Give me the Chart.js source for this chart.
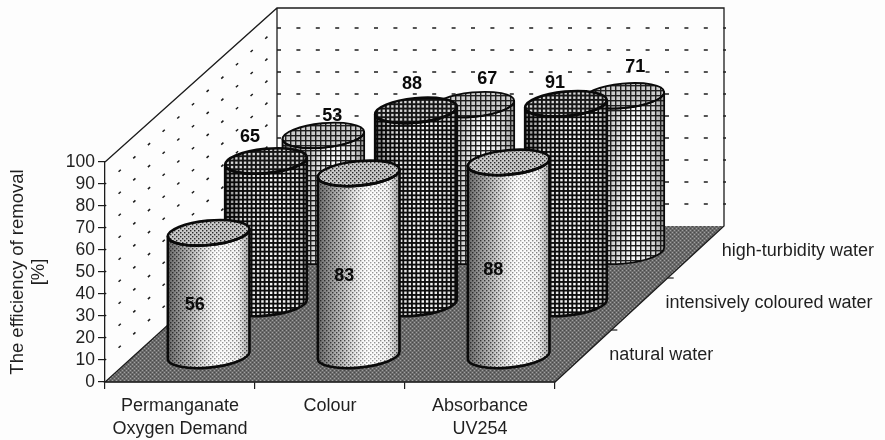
<!DOCTYPE html>
<html><head><meta charset="utf-8">
<style>html,body{margin:0;padding:0;background:#fdfdfd}canvas{display:block;filter:blur(0.5px)}</style>
<script src="https://cdn.jsdelivr.net/npm/chart.js@4"></script>
</head><body><canvas id="c" width="885" height="440"></canvas>
<script>
const categories = [['Permanganate','Oxygen Demand'],'Colour',['Absorbance','UV254']];
const seriesNames = ['natural water','intensively coloured water','high-turbidity water'];
const naturalWater = [56,83,88];
const colouredWater = [65,88,91];
const turbidWater = [53,67,71];
const yTicks = [0,10,20,30,40,50,60,70,80,90,100];
// label placement relative to the top of each cylinder (series x category)
const labelDX = [[-14,-14.5,-15.5],[-16,-4,-11],[9,14,12]];
const labelDY = [[72,103,108],[-24,-26,-21],[-19,-26,-29]];

const DEPTH_X = 172, DEPTH_Y = 156, RX = 41, RY = 12.2, TILT = -5.5*Math.PI/180;
const depthFrac = [1/6, 1/2, 5/6];
const INK = '#1c1c1c', TXT = '#1f1f1f';
const FONT = '"Liberation Sans", Arial, sans-serif';

function tile(w,h,fn){const c=document.createElement('canvas');c.width=w;c.height=h;fn(c.getContext('2d'));return c;}
const dots = tile(4,4,g=>{g.fillStyle='#2a2a2a';g.fillRect(0,0,1.4,1.4);g.fillRect(2,2,1.4,1.4);});
const floorT = tile(4,4,g=>{g.fillStyle='#6a6a6a';g.fillRect(0,0,4,4);g.fillStyle='#a0a0a0';g.fillRect(0,0,1,1);g.fillRect(2,2,1,1);g.fillStyle='#4a4a4a';g.fillRect(2,0,1,1);g.fillRect(0,2,1,1);});
const darkGrid = tile(13,13,g=>{g.fillStyle='#0c0c0c';g.fillRect(0,0,13,13);g.fillStyle='#f8f8f8';for(let i=0;i<3;i++)for(let j=0;j<3;j++)g.fillRect(i*13/3+1.2,j*13/3+1.2,2.5,2.5);});
const darkTop = tile(13,13,g=>{g.fillStyle='#161616';g.fillRect(0,0,13,13);g.fillStyle='#d8d8d8';for(let i=0;i<3;i++)for(let j=0;j<3;j++)g.fillRect(i*13/3+1.2,j*13/3+1.2,2.4,2.4);});
const lightGrid = tile(5,5,g=>{g.fillStyle='#1e1e1e';g.fillRect(0,0,5,1.4);g.fillRect(0,0,1.4,5);});

function sideGrad(ctx,cx,stops){const g=ctx.createLinearGradient(cx-RX,0,cx+RX,0);stops.forEach(s=>g.addColorStop(s[0],s[1]));return g;}

function cylinderPaths(ctx,cx,topY,baseY){
  const t0=Math.atan2(-RY*Math.sin(TILT),RX*Math.cos(TILT));
  const ex=RX*Math.cos(t0)*Math.cos(TILT)-RY*Math.sin(t0)*Math.sin(TILT);
  const ey=RX*Math.cos(t0)*Math.sin(TILT)+RY*Math.sin(t0)*Math.cos(TILT);
  return {
    side(){ctx.beginPath();ctx.moveTo(cx+ex,topY+ey);ctx.lineTo(cx+ex,baseY+ey);
      ctx.ellipse(cx,baseY,RX,RY,TILT,t0,t0+Math.PI);ctx.lineTo(cx-ex,topY-ey);
      ctx.ellipse(cx,topY,RX,RY,TILT,t0+Math.PI,t0,true);ctx.closePath();},
    top(){ctx.beginPath();ctx.ellipse(cx,topY,RX,RY,TILT,0,Math.PI*2);ctx.closePath();}
  };
}
function paintCylinder(ctx,idx,cx,topY,baseY){
  const p=cylinderPaths(ctx,cx,topY,baseY);
  const fillPat=(c,t)=>{ctx.fillStyle=ctx.createPattern(t,'repeat');c();ctx.fill();};
  if(idx===0){
    p.side();ctx.fillStyle=sideGrad(ctx,cx,[[0,'#6a6a6a'],[.25,'#aaaaaa'],[.6,'#fdfdfd'],[.85,'#f0f0f0'],[1,'#a0a0a0']]);ctx.fill();
    fillPat(p.side,dots);
    p.side();ctx.fillStyle=sideGrad(ctx,cx,[[0,'rgba(255,255,255,0)'],[.3,'rgba(255,255,255,.1)'],[.62,'rgba(255,255,255,.55)'],[.85,'rgba(255,255,255,.4)'],[1,'rgba(255,255,255,0)']]);ctx.fill();
    p.top();ctx.fillStyle='#cacaca';ctx.fill();fillPat(p.top,dots);
  } else if(idx===1){
    fillPat(p.side,darkGrid);
    p.side();ctx.fillStyle=sideGrad(ctx,cx,[[0,'rgba(0,0,0,.5)'],[.2,'rgba(0,0,0,.15)'],[.6,'rgba(0,0,0,0)'],[.9,'rgba(0,0,0,.1)'],[1,'rgba(0,0,0,.35)']]);ctx.fill();
    fillPat(p.top,darkTop);
  } else {
    p.side();ctx.fillStyle=sideGrad(ctx,cx,[[0,'#8a8a8a'],[.3,'#c4c4c4'],[.62,'#fafafa'],[.85,'#dedede'],[1,'#9a9a9a']]);ctx.fill();
    fillPat(p.side,lightGrid);
    p.top();ctx.fillStyle='#cccccc';ctx.fill();fillPat(p.top,lightGrid);
  }
  ctx.strokeStyle='#0a0a0a';ctx.lineJoin='round';
  ctx.lineWidth=idx===2?1.8:2.6;
  p.side();ctx.stroke();
  p.top();ctx.stroke();
}

class CylinderController extends Chart.BarController {
  draw(){
    const ctx=this.chart.ctx, i=this.index, f=depthFrac[i];
    ctx.save();
    this.getMeta().data.forEach(el=>{
      paintCylinder(ctx,i,el.x+f*DEPTH_X,el.y-f*DEPTH_Y,el.base-f*DEPTH_Y);
    });
    ctx.restore();
  }
}
CylinderController.id='cylinder3d';
CylinderController.defaults=Chart.BarController.defaults;
CylinderController.overrides=Chart.BarController.overrides;
Chart.register(CylinderController);

const walls={
  id:'walls',
  beforeDatasetsDraw(chart){
    const {ctx,chartArea:a,scales:{y}}=chart;
    const y0=y.getPixelForValue(0),y100=y.getPixelForValue(100);
    const bl=a.left+DEPTH_X+0, br=a.right+DEPTH_X-3, by=y0-DEPTH_Y;
    ctx.save();
    // floor
    ctx.beginPath();ctx.moveTo(a.left,y0);ctx.lineTo(a.right,y0);ctx.lineTo(br,by);ctx.lineTo(bl,by);ctx.closePath();
    ctx.fillStyle=ctx.createPattern(floorT,'repeat');ctx.fill();
    // frame
    ctx.strokeStyle=INK;ctx.lineWidth=1.3;
    ctx.beginPath();ctx.moveTo(a.left,y100);ctx.lineTo(bl,y100-DEPTH_Y+2);ctx.lineTo(br,y100-DEPTH_Y+2);ctx.lineTo(br,by);
    ctx.lineTo(a.right,y0);ctx.lineTo(a.left,y0);ctx.lineTo(bl,by);
    ctx.moveTo(bl,y100-DEPTH_Y+2);ctx.lineTo(bl,by);ctx.stroke();
    // dashed gridlines on both walls
    yTicks.slice(1,-1).forEach(v=>{
      const py=y.getPixelForValue(v);
      ctx.setLineDash([4,15.4]);ctx.lineDashOffset=0;ctx.lineWidth=1.5;
      ctx.beginPath();ctx.moveTo(bl,py-DEPTH_Y);ctx.lineTo(br+2,py-DEPTH_Y);ctx.stroke();
      ctx.setLineDash([3,16.8]);ctx.lineDashOffset=1.5;
      ctx.beginPath();ctx.moveTo(a.left,py);ctx.lineTo(bl,py-DEPTH_Y);ctx.stroke();
    });
    ctx.setLineDash([]);
    // depth ticks and series names
    ctx.lineWidth=1.2;ctx.fillStyle=TXT;ctx.font='18px '+FONT;ctx.textAlign='left';ctx.textBaseline='middle';
    [1/3,2/3].forEach(f=>{const x=a.right+f*(DEPTH_X-3),py=y0-f*DEPTH_Y;ctx.beginPath();ctx.moveTo(x,py);ctx.lineTo(x+6,py);ctx.stroke();});
    seriesNames.forEach((n,i)=>{ctx.fillText(n,a.right+depthFrac[i]*(DEPTH_X-3)+26,y0-depthFrac[i]*DEPTH_Y-1);});
    ctx.restore();
  },
  afterDatasetsDraw(chart){
    const {ctx}=chart;
    ctx.save();ctx.fillStyle='#0a0a0a';ctx.font='bold 18px '+FONT;ctx.textAlign='center';ctx.textBaseline='middle';
    chart.data.datasets.forEach((ds,i)=>{
      const f=depthFrac[i];
      chart.getDatasetMeta(i).data.forEach((el,k)=>{
        ctx.fillText(String(ds.data[k]),el.x+f*DEPTH_X+labelDX[i][k],el.y-f*DEPTH_Y+labelDY[i][k]);
      });
    });
    ctx.restore();
  }
};

new Chart(document.getElementById('c'),{
  type:'cylinder3d',
  data:{labels:categories,datasets:[naturalWater,colouredWater,turbidWater].map((d,i)=>({label:seriesNames[i],data:d,clip:false,grouped:false,backgroundColor:'#999'}))},
  plugins:[walls],
  options:{
    responsive:false,animation:false,
    layout:{padding:{left:0,right:330,top:162,bottom:0}},
    plugins:{legend:{display:false},tooltip:{enabled:false},title:{display:false}},
    scales:{
      x:{type:'category',offset:true,afterFit(s){s.height=58;},
        grid:{offset:true,drawOnChartArea:false,drawTicks:true,tickLength:7,color:INK,lineWidth:1.2},
        border:{display:true,color:INK,width:1.3},
        ticks:{color:TXT,font:{family:FONT,size:18,lineHeight:1.3},padding:5,maxRotation:0,autoSkip:false}},
      y:{type:'linear',min:0,max:100,afterFit(s){s.width=105;},
        afterBuildTicks(s){s.ticks=yTicks.map(v=>({value:v}));},
        grid:{drawOnChartArea:false,drawTicks:true,tickLength:7,color:INK,lineWidth:1.2},
        border:{display:true,color:INK,width:1.3},
        ticks:{color:TXT,font:{family:FONT,size:17.5},padding:3,autoSkip:false},
        title:{display:true,text:['The efficiency of removal','[%]'],color:TXT,font:{family:FONT,size:18.5,lineHeight:1.15},padding:{top:7,bottom:0}}}
    }
  }
});
</script></body></html>
